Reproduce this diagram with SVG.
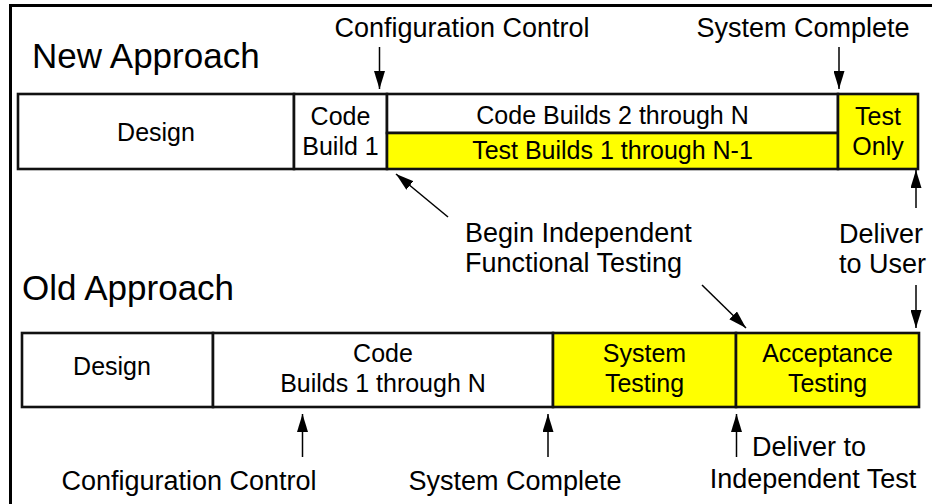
<svg xmlns="http://www.w3.org/2000/svg" width="932" height="504" viewBox="0 0 932 504">
  <style>
    text { font-family: "Liberation Sans", Arial, sans-serif; fill: #000; }
    .title { font-size: 35px; }
    .label { font-size: 27px; }
    .box-text { font-size: 25px; text-anchor: middle; }
    .box { stroke: #111; stroke-width: 2.6; }
    .white { fill: #fff; }
    .yellow { fill: #ffff00; }
    .arrow { stroke: #000; stroke-width: 1.5; fill: none; marker-end: url(#head); }
  </style>
  <defs>
    <marker id="head" markerUnits="userSpaceOnUse" markerWidth="18" markerHeight="11" refX="18" refY="5.5" orient="auto">
      <path d="M0,0 L18,5.5 L0,11 Z" fill="#000"/>
    </marker>
  </defs>

  <rect width="932" height="504" fill="#fff"/>
  <!-- frame -->
  <path d="M10.5,504 V5.5 H932" fill="none" stroke="#000" stroke-width="3"/>

  <!-- New approach -->
  <text class="title" x="32" y="68">New Approach</text>

  <g id="new-design">
    <rect class="box white" x="18" y="94" width="276" height="75"/>
    <text class="box-text" x="156" y="140.5">Design</text>
  </g>
  <g id="new-code-build-1">
    <rect class="box white" x="294" y="94" width="93" height="75"/>
    <text class="box-text" x="340.5" y="125">Code</text>
    <text class="box-text" x="340.5" y="155">Build 1</text>
  </g>
  <g id="new-code-builds">
    <rect class="box white" x="387" y="94" width="451" height="39"/>
    <text class="box-text" x="612.5" y="124">Code Builds 2 through N</text>
  </g>
  <g id="new-test-builds">
    <rect class="box yellow" x="387" y="133" width="451" height="36"/>
    <text class="box-text" x="612.5" y="159">Test Builds 1 through N-1</text>
  </g>
  <g id="new-test-only">
    <rect class="box yellow" x="838" y="94" width="80" height="75"/>
    <text class="box-text" x="878" y="125">Test</text>
    <text class="box-text" x="878" y="155">Only</text>
  </g>

  <!-- Old approach -->
  <text class="title" x="22" y="300">Old Approach</text>

  <g id="old-design">
    <rect class="box white" x="22" y="333" width="191" height="74"/>
    <text class="box-text" x="112" y="375">Design</text>
  </g>
  <g id="old-code">
    <rect class="box white" x="213" y="333" width="340" height="74"/>
    <text class="box-text" x="383" y="361.5">Code</text>
    <text class="box-text" x="383" y="391.5">Builds 1 through N</text>
  </g>
  <g id="old-system-testing">
    <rect class="box yellow" x="553" y="333" width="183" height="74"/>
    <text class="box-text" x="644.5" y="361.5">System</text>
    <text class="box-text" x="644.5" y="391.5">Testing</text>
  </g>
  <g id="old-acceptance-testing">
    <rect class="box yellow" x="736" y="333" width="183" height="74"/>
    <text class="box-text" x="827.5" y="361.5">Acceptance</text>
    <text class="box-text" x="827.5" y="391.5">Testing</text>
  </g>

  <!-- milestone labels -->
  <g id="labels">
    <text class="label" x="462" y="37" text-anchor="middle">Configuration Control</text>
    <text class="label" x="803" y="37" text-anchor="middle">System Complete</text>
    <text class="label" x="465" y="242">Begin Independent</text>
    <text class="label" x="465" y="272">Functional Testing</text>
    <text class="label" x="839" y="243">Deliver</text>
    <text class="label" x="839" y="273">to User</text>
    <text class="label" x="189" y="490" text-anchor="middle">Configuration Control</text>
    <text class="label" x="515" y="490" text-anchor="middle">System Complete</text>
    <text class="label" x="752" y="456">Deliver to</text>
    <text class="label" x="813" y="488" text-anchor="middle">Independent Test</text>
  </g>

  <!-- connectors -->
  <g id="connectors">
    <line class="arrow" x1="379.5" y1="47" x2="379.5" y2="89"/>
    <line class="arrow" x1="839" y1="47" x2="839" y2="89"/>
    <line class="arrow" x1="448" y1="217" x2="396" y2="174"/>
    <line class="arrow" x1="916" y1="208" x2="916" y2="170"/>
    <line class="arrow" x1="702" y1="285" x2="746" y2="328"/>
    <line class="arrow" x1="916" y1="285" x2="916" y2="328"/>
    <line class="arrow" x1="302.5" y1="457" x2="302.5" y2="414"/>
    <line class="arrow" x1="548" y1="457" x2="548" y2="414"/>
    <line class="arrow" x1="736.5" y1="457" x2="736.5" y2="414"/>
  </g>
</svg>
